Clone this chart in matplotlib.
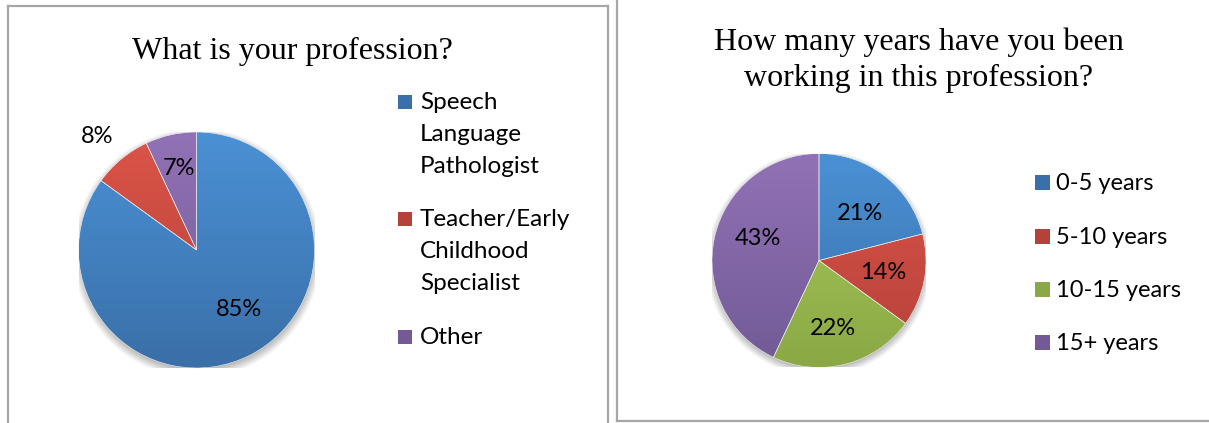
import numpy as np
import matplotlib
matplotlib.use("Agg")
import matplotlib.pyplot as plt
from matplotlib.lines import Line2D
from matplotlib.patches import Rectangle

# data
prof_labels = ["Speech\nLanguage\nPathologist", "Teacher/Early\nChildhood\nSpecialist", "Other"]
prof_values = [85, 8, 7]
years_labels = ["0-5 years", "5-10 years", "10-15 years", "15+ years"]
years_values = [21, 14, 22, 43]

# gradient colours (top, bottom) per slice
blue = ("#4a91d5", "#3a6fa8")
red = ("#dc5448", "#b4413a")
green = ("#aacb5a", "#8aa845")
purple = ("#9272b6", "#715a96")
prof_colors = [blue, red, purple]
years_colors = [blue, red, green, purple]

W, H = 1209, 423
fig = plt.figure(figsize=(W / 100, H / 100), dpi=100)
fig.patch.set_facecolor("white")

serif = "Liberation Serif"
sans = "Lato"


def fx(x):
    return x / W


def fy(y):
    return 1 - y / H


def gradient_pie(cx, cy, r, values, colors, label_pos):
    ax = fig.add_axes([fx(cx - r), fy(cy + r), 2 * r / W, 2 * r / H])
    # soft shadow under the pie
    yy, xx = np.mgrid[-1.2:1.2:300j, -1.2:1.2:300j]
    d = np.hypot(xx, yy + 0.03)
    a = np.clip((1.06 - d) / 0.1, 0, 1) * 0.35
    sh = np.zeros((300, 300, 4))
    sh[..., 3] = a
    ax.imshow(sh, extent=(-1.2, 1.2, -1.2, 1.2), origin="lower", zorder=0)
    wedges, _ = ax.pie(values, startangle=90, counterclock=False, radius=1,
                       colors=[c[1] for c in colors],
                       wedgeprops=dict(linewidth=0.4, edgecolor="#f0f0f0"))
    t = np.linspace(0, 1, 256)[:, None]
    for w, (top, bot) in zip(wedges, colors):
        c1 = np.array(matplotlib.colors.to_rgb(top))
        c2 = np.array(matplotlib.colors.to_rgb(bot))
        img = (c1 * (1 - t) + c2 * t)[:, None, :].repeat(2, axis=1)
        im = ax.imshow(img, extent=(-1, 1, -1, 1), origin="upper",
                       aspect="auto", zorder=2)
        im.set_clip_path(w)
    for w in wedges:
        w.set_zorder(3)
        w.set_facecolor("none")
    for v, (px, py) in zip(values, label_pos):
        ax.text(px, py, f"{v}%", ha="center", va="center", fontsize=17,
                family=sans, color="black", zorder=5)
    ax.set_xlim(-1, 1)
    ax.set_ylim(-1, 1)
    ax.set_aspect("equal")
    ax.axis("off")
    return ax


gradient_pie(196.5, 250, 118, prof_values, prof_colors,
             [(0.36, -0.50), (-0.84, 0.96), (-0.15, 0.69)])
gradient_pie(819, 260.5, 107, years_values, years_colors,
             [(0.38, 0.44), (0.60, -0.11), (0.13, -0.64), (-0.57, 0.21)])

# titles
fig.text(fx(292), fy(51), "What is your profession?", family=serif,
         fontsize=23, ha="center", va="center")
fig.text(fx(919), fy(60), "How many years have you been\nworking in this profession?",
         family=serif, fontsize=23, ha="center", va="center", linespacing=1.3)

# legends: square aligned with first line of each entry
left_first = [102, 219, 337]
right_first = [183, 237, 290, 343]
for y, lab, (top, bot) in zip(left_first, prof_labels, prof_colors):
    fig.patches.append(Rectangle((398, H - y - 7), 14, 14, transform=None,
                                 facecolor=bot, edgecolor="none"))
    for i, line in enumerate(lab.split("\n")):
        fig.text(fx(420), fy(y + 7 + i * 32), line, family=sans, fontsize=17.5,
                 ha="left", va="baseline")
for y, lab, (top, bot) in zip(right_first, years_labels, years_colors):
    fig.patches.append(Rectangle((1035, H - y - 7), 15, 15, transform=None,
                                 facecolor=bot, edgecolor="none"))
    fig.text(fx(1056), fy(y + 7), lab, family=sans, fontsize=17,
             ha="left", va="baseline")

# panel borders
border = dict(color="#a6a6a6", linewidth=1.6, transform=fig.transFigure)
fig.add_artist(Line2D([fx(8), fx(8)], [fy(6), 0], **border))
fig.add_artist(Line2D([fx(8), fx(608)], [fy(6), fy(6)], **border))
fig.add_artist(Line2D([fx(608), fx(608)], [fy(6), 0], **border))
fig.add_artist(Line2D([fx(617), fx(617)], [1, fy(421)], **border))
fig.add_artist(Line2D([fx(617), 1], [fy(421), fy(421)], **border))

fig.savefig("out.png", dpi=100)
